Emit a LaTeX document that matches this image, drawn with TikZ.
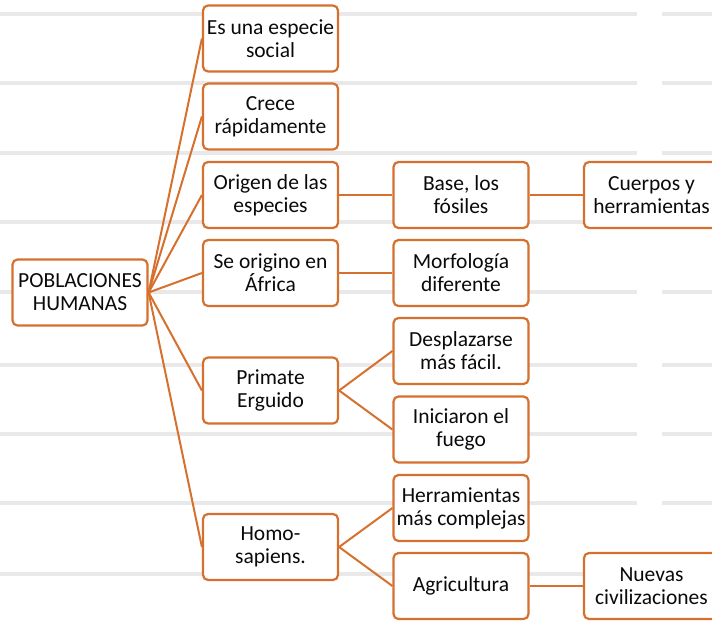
\documentclass[tikz,border=0pt]{standalone}
\usepackage{fontspec}
\setmainfont{Carlito}
\definecolor{naranja}{RGB}{214,112,46}
\definecolor{texto}{RGB}{10,10,10}
\definecolor{renglon}{RGB}{233,233,233}

\begin{document}
\begin{tikzpicture}[
    x=1pt, y=-1pt,
    caja/.style={draw=naranja, line width=2.2pt, rounded corners=5pt, fill=white,
        minimum width=135pt, minimum height=66pt, align=center, text=texto,
        inner sep=1pt},
    rama/.style={draw=naranja, line width=2pt},
    font=\fontsize{21.5}{23}\selectfont
]
\useasboundingbox (0,0) rectangle (712,621);

% Renglones del cuaderno (fondo)
\foreach \y in {14,83,153,222,292,365,434,503,574} {
    \draw[renglon, line width=3.5pt] (0,\y) -- (637,\y);
    \draw[renglon, line width=3.5pt] (662,\y) -- (712,\y);
}

% Nodo central
\node[caja] (pob) at (80,292.5) {POBLACIONES\\HUMANAS};

% Primer nivel
\node[caja] (social) at (270.5,38.5) {Es una especie\\social};
\node[caja] (crece) at (270.5,116.5) {Crece\\rápidamente};
\node[caja] (origen) at (270.5,195) {Origen de las\\especies};
\node[caja] (africa) at (270.5,273) {Se origino en\\África};
\node[caja] (primate) at (270.5,390.5) {Primate\\Erguido};
\node[caja] (homo) at (270.5,547) {Homo-\\sapiens.};

% Segundo nivel
\node[caja] (fosiles) at (461,195) {Base, los\\fósiles};
\node[caja] (morfo) at (461,273) {Morfología\\diferente};
\node[caja] (despl) at (461,351) {Desplazarse\\más fácil.};
\node[caja] (fuego) at (461,429.5) {Iniciaron el\\fuego};
\node[caja] (herram) at (461,508) {Herramientas\\más complejas};
\node[caja] (agri) at (461,586) {Agricultura};

% Tercer nivel
\node[caja] (cuerpos) at (651.5,195) {Cuerpos y\\herramientas};
\node[caja] (civil) at (651.5,586) {Nuevas\\civilizaciones};

% Ramas
\foreach \n in {social,crece,origen,africa,primate,homo}
    \draw[rama] (pob.east) -- (\n.west);
\draw[rama] (origen.east) -- (fosiles.west);
\draw[rama] (fosiles.east) -- (cuerpos.west);
\draw[rama] (africa.east) -- (morfo.west);
\draw[rama] (primate.east) -- (despl.west);
\draw[rama] (primate.east) -- (fuego.west);
\draw[rama] (homo.east) -- (herram.west);
\draw[rama] (homo.east) -- (agri.west);
\draw[rama] (agri.east) -- (civil.west);

\end{tikzpicture}
\end{document}
